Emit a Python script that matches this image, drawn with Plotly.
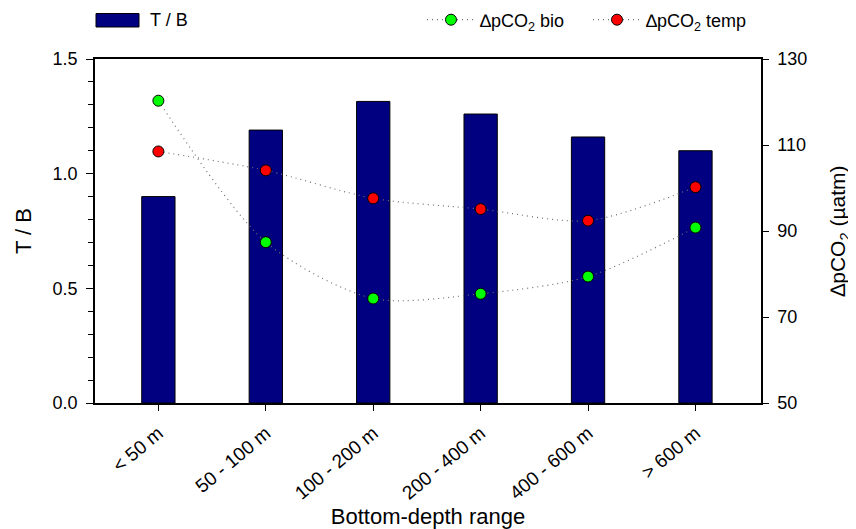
import plotly.graph_objects as go

categories = ["< 50 m", "50 - 100 m", "100 - 200 m", "200 - 400 m", "400 - 600 m", "> 600 m"]
tb_ratio = [0.90, 1.19, 1.315, 1.26, 1.16, 1.10]
dpco2_bio = [120.3, 87.4, 74.3, 75.4, 79.4, 90.8]
dpco2_temp = [108.5, 104.1, 97.6, 95.1, 92.4, 100.2]

FONT = "Liberation Sans, Arial, sans-serif"
xi = list(range(len(categories)))

# page body has an 8px margin, so the figure is drawn 8px smaller
W, H = 848, 521
ML, MR, MT, MB = 87, 95, 51, 126
PW, PH = W - ML - MR, H - MT - MB


def px(xw):  # window x -> paper x
    return (xw - 8 - ML) / PW


def py(yw):  # window y -> paper y
    return 1 - (yw - 8 - MT) / PH


fig = go.Figure()
fig.add_trace(go.Bar(
    x=xi, y=tb_ratio, width=0.31, name="T / B",
    marker=dict(color="#000080", line=dict(color="#000000", width=1)),
    showlegend=False,
))
fig.add_trace(go.Scatter(
    x=xi, y=dpco2_bio, yaxis="y2", mode="lines+markers",
    name="\u2206pCO<sub>2</sub> bio", legend="legend2",
    line=dict(color="#707070", width=1.2, dash="1px,4px", shape="spline", smoothing=0.8),
    marker=dict(color="#00FF00", size=11, line=dict(color="#000000", width=1)),
))
fig.add_trace(go.Scatter(
    x=xi, y=dpco2_temp, yaxis="y2", mode="lines+markers",
    name="\u2206pCO<sub>2</sub> temp", legend="legend2",
    line=dict(color="#707070", width=1.2, dash="1px,4px", shape="spline", smoothing=0.8),
    marker=dict(color="#FF0000", size=11, line=dict(color="#000000", width=1)),
))

fig.update_layout(
    width=W, height=H,
    margin=dict(l=ML, r=MR, t=MT, b=MB, pad=0),
    paper_bgcolor="white", plot_bgcolor="white",
    font=dict(family=FONT, size=18, color="#000000"),
    xaxis=dict(
        range=[-0.59, 5.61], tickmode="array", tickvals=xi, ticktext=categories,
        tickangle=-40, ticks="outside", ticklen=6, tickcolor="#000",
        tickfont=dict(size=19), ticklabelstandoff=4,
        showline=True, linecolor="#000", linewidth=1.5, mirror=True,
        showgrid=False, zeroline=False, automargin=False,
        title=dict(text="Bottom-depth range", font=dict(size=22), standoff=0),
    ),
    yaxis=dict(
        range=[0, 1.5], dtick=0.5, tickformat=".1f",
        ticks="outside", ticklen=7, tickcolor="#000", ticklabelstandoff=5,
        minor=dict(dtick=0.1, ticks="outside", ticklen=5, tickcolor="#000"),
        showline=True, linecolor="#000", linewidth=1.5,
        showgrid=False, zeroline=False, automargin=False,
        title=dict(text="T / B", font=dict(size=22), standoff=15),
    ),
    yaxis2=dict(
        range=[50, 130], tick0=50, dtick=20, overlaying="y", side="right",
        ticks="outside", ticklen=6, tickcolor="#000", ticklabelstandoff=5,
        showline=True, linecolor="#000", linewidth=1.5,
        showgrid=False, zeroline=False, automargin=False,
        title=dict(text="\u2206pCO<sub>2</sub> (\u00b5atm)", font=dict(size=21), standoff=24),
    ),
    legend2=dict(
        orientation="h", xref="container", yref="container",
        x=(422 - 8) / W, y=1 - (20 - 8) / H, xanchor="left", yanchor="middle",
        itemwidth=48, entrywidth=103,
        font=dict(size=18), bgcolor="rgba(0,0,0,0)",
    ),
    showlegend=True,
)

# Legend entry for bar series (swatch + label)
fig.add_shape(type="rect", xref="paper", yref="paper",
              x0=px(96), x1=px(139), y0=py(27), y1=py(13.5),
              fillcolor="#000080", line=dict(color="#000", width=1))
fig.add_annotation(xref="paper", yref="paper", x=px(148), y=py(20.5),
                   text="T / B", showarrow=False, xanchor="left", yanchor="middle",
                   font=dict(size=18))

fig.write_html("out.html")
